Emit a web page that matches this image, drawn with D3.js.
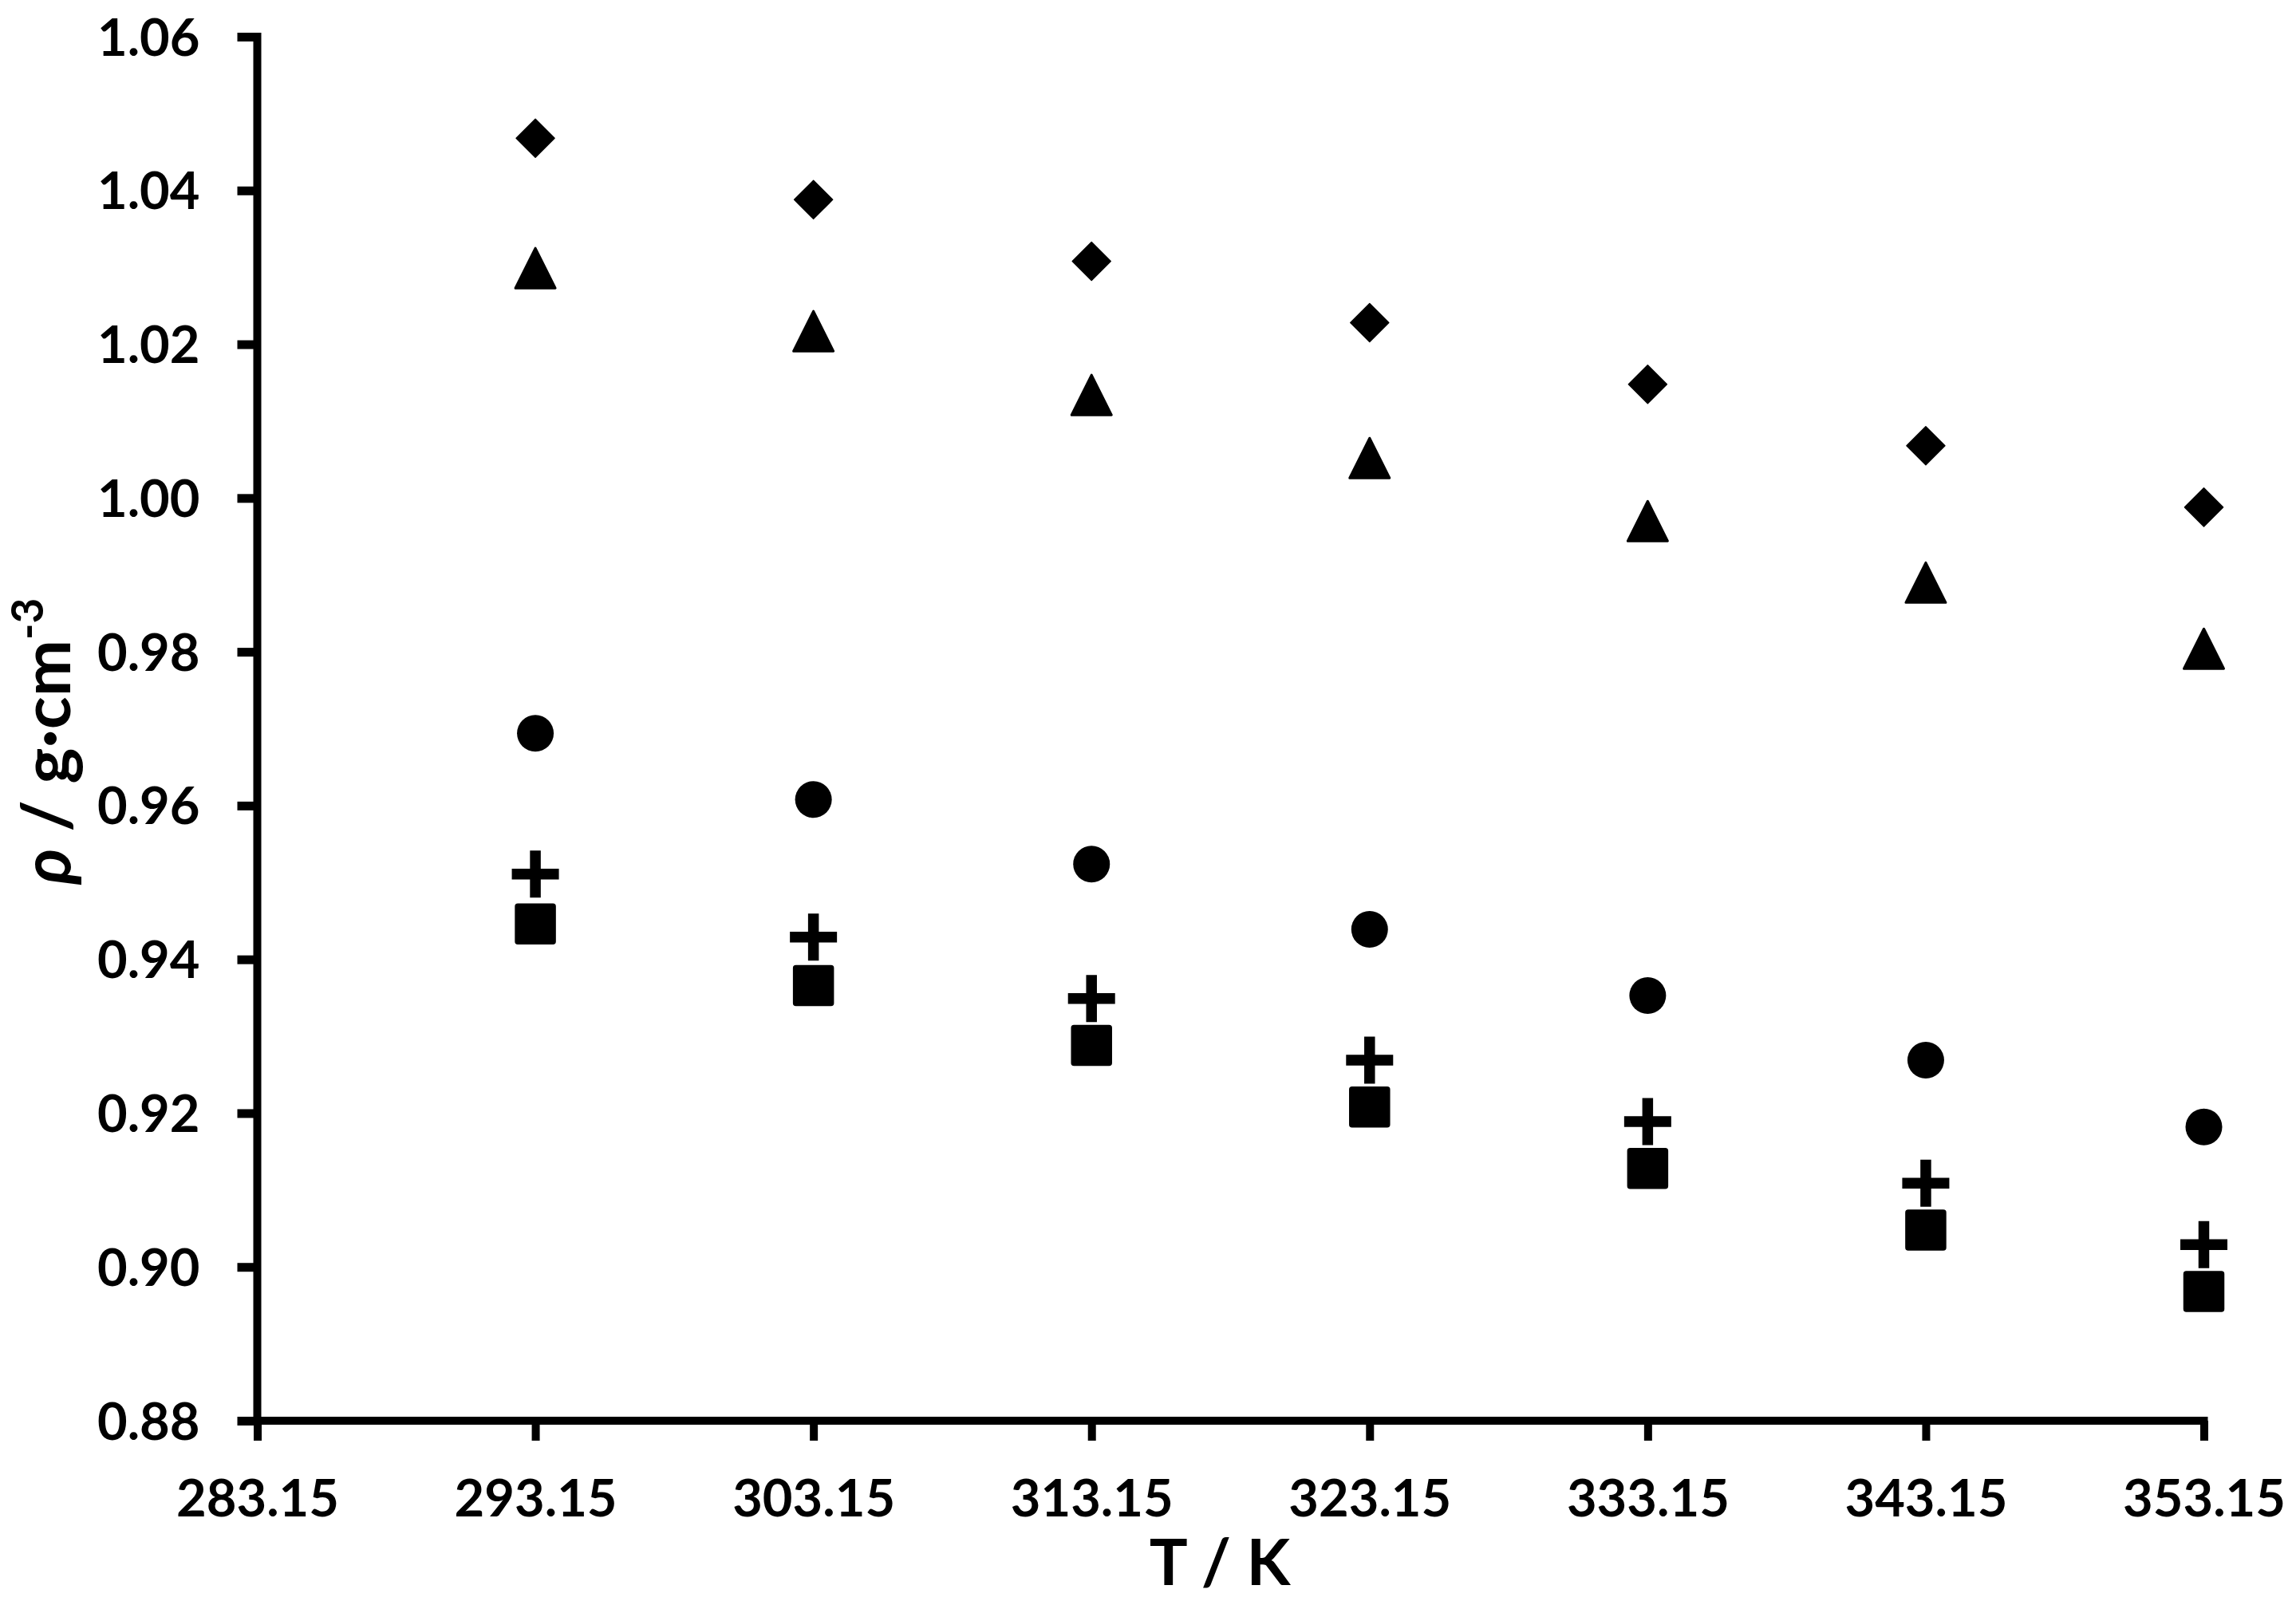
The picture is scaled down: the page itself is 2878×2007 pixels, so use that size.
<!DOCTYPE html>
<html>
<head>
<meta charset="utf-8">
<script src="https://cdn.jsdelivr.net/npm/d3@7"></script>
<style>
  html, body { margin: 0; padding: 0; background: #fff; }
  svg { display: block; }
  text { font-family: Lato, "Open Sans", sans-serif; font-weight: bold; fill: #000; }
</style>
</head>
<body>
<svg id="chart" width="2878" height="2007"></svg>
<script>
// ---- data ----
const temperatures = [293.15, 303.15, 313.15, 323.15, 333.15, 343.15, 353.15];
const seriesDiamond  = [1.0468, 1.0388, 1.0308, 1.0228, 1.0148, 1.0068, 0.9988];
const seriesTriangle = [1.0299, 1.0217, 1.0134, 1.0052, 0.9970, 0.9890, 0.9804];
const seriesCircle   = [0.9694, 0.9608, 0.9524, 0.9439, 0.9353, 0.9269, 0.9182];
const seriesPlus     = [0.9511, 0.9429, 0.9349, 0.9269, 0.9189, 0.9109, 0.9029];
const seriesSquare   = [0.9446, 0.9366, 0.9288, 0.9208, 0.9128, 0.9048, 0.8968];
const xTicks = [283.15, 293.15, 303.15, 313.15, 323.15, 333.15, 343.15, 353.15];
const yTicks = [0.88, 0.90, 0.92, 0.94, 0.96, 0.98, 1.00, 1.02, 1.04, 1.06];
const xTitle = "T / K";

// ---- layout ----
const svg = d3.select("#chart");
const x = d3.scaleLinear().domain([283.15, 353.15]).range([322.5, 2762.5]);
const y = d3.scaleLinear().domain([0.88, 1.06]).range([1781, 46]);

// axes
const xAxis = d3.axisBottom(x).tickValues(xTicks).tickSize(25).tickSizeOuter(25)
  .tickFormat(d => d.toFixed(2));
const yAxis = d3.axisLeft(y).tickValues(yTicks).tickSize(25).tickSizeOuter(25)
  .tickFormat(d => d.toFixed(2));

const gx = svg.append("g").attr("transform", "translate(0,1781)").call(xAxis);
gx.select(".domain").attr("stroke", "#000").attr("stroke-width", 10).attr("d", `M${x(283.15)},0H${x(353.15)+5}`);
gx.selectAll(".tick line").attr("stroke", "#000").attr("stroke-width", 10);
gx.selectAll(".tick text").attr("y", 0).attr("dy", 120).attr("font-size", 65)
  .attr("font-family", "Lato, sans-serif").attr("font-weight", "bold").attr("fill", "#000");

const gy = svg.append("g").attr("transform", "translate(322.5,0)").call(yAxis);
gy.select(".domain").attr("stroke", "#000").attr("stroke-width", 10).attr("d", `M0,${y(1.06)-5}V${y(0.88)+5}`);
gy.selectAll(".tick line").attr("stroke", "#000").attr("stroke-width", 11);
gy.selectAll(".tick text").attr("x", -72).attr("dy", 23).attr("font-size", 65)
  .attr("font-family", "Lato, sans-serif").attr("font-weight", "bold").attr("fill", "#000");

// axis titles
svg.append("text").attr("x", 1529).attr("y", 1987).attr("text-anchor", "middle")
  .attr("font-size", 80).text(xTitle);

const yt = svg.append("text").attr("transform", "translate(88,929) rotate(-90)")
  .attr("text-anchor", "middle").attr("font-size", 85);
yt.append("tspan").attr("font-style", "italic").text("ρ");
yt.append("tspan").text(" / g·cm");
yt.append("tspan").attr("font-size", 55).attr("dy", -34).text("-3");

// markers
const shapes = {
  diamond: "M0,-24L24,0L0,24L-24,0Z",
  triangle: "M0,-25L25,25L-25,25Z",
  square: "M-22,-25H22Q25,-25 25,-22V22Q25,25 22,25H-22Q-25,25 -25,22V-22Q-25,-25 -22,-25Z",
  plus: "M-6.75,-29.5H6.75V-6.75H29.5V6.75H6.75V29.5H-6.75V6.75H-29.5V-6.75H-6.75Z"
};
function drawSeries(values, kind) {
  const g = svg.append("g");
  const data = temperatures.map((t, i) => ({ t, v: values[i] }));
  if (kind === "circle") {
    g.selectAll("circle").data(data).join("circle")
      .attr("cx", d => x(d.t)).attr("cy", d => y(d.v)).attr("r", 23).attr("fill", "#000");
  } else {
    g.selectAll("path").data(data).join("path")
      .attr("transform", d => `translate(${x(d.t)},${y(d.v)})`)
      .attr("d", shapes[kind]).attr("fill", "#000")
      .attr("stroke", kind === "plus" ? "none" : "#000")
      .attr("stroke-width", kind === "triangle" ? 3 : 1.5)
      .attr("stroke-linejoin", "round");
  }
}
drawSeries(seriesDiamond, "diamond");
drawSeries(seriesTriangle, "triangle");
drawSeries(seriesCircle, "circle");
drawSeries(seriesPlus, "plus");
drawSeries(seriesSquare, "square");
</script>
</body>
</html>
